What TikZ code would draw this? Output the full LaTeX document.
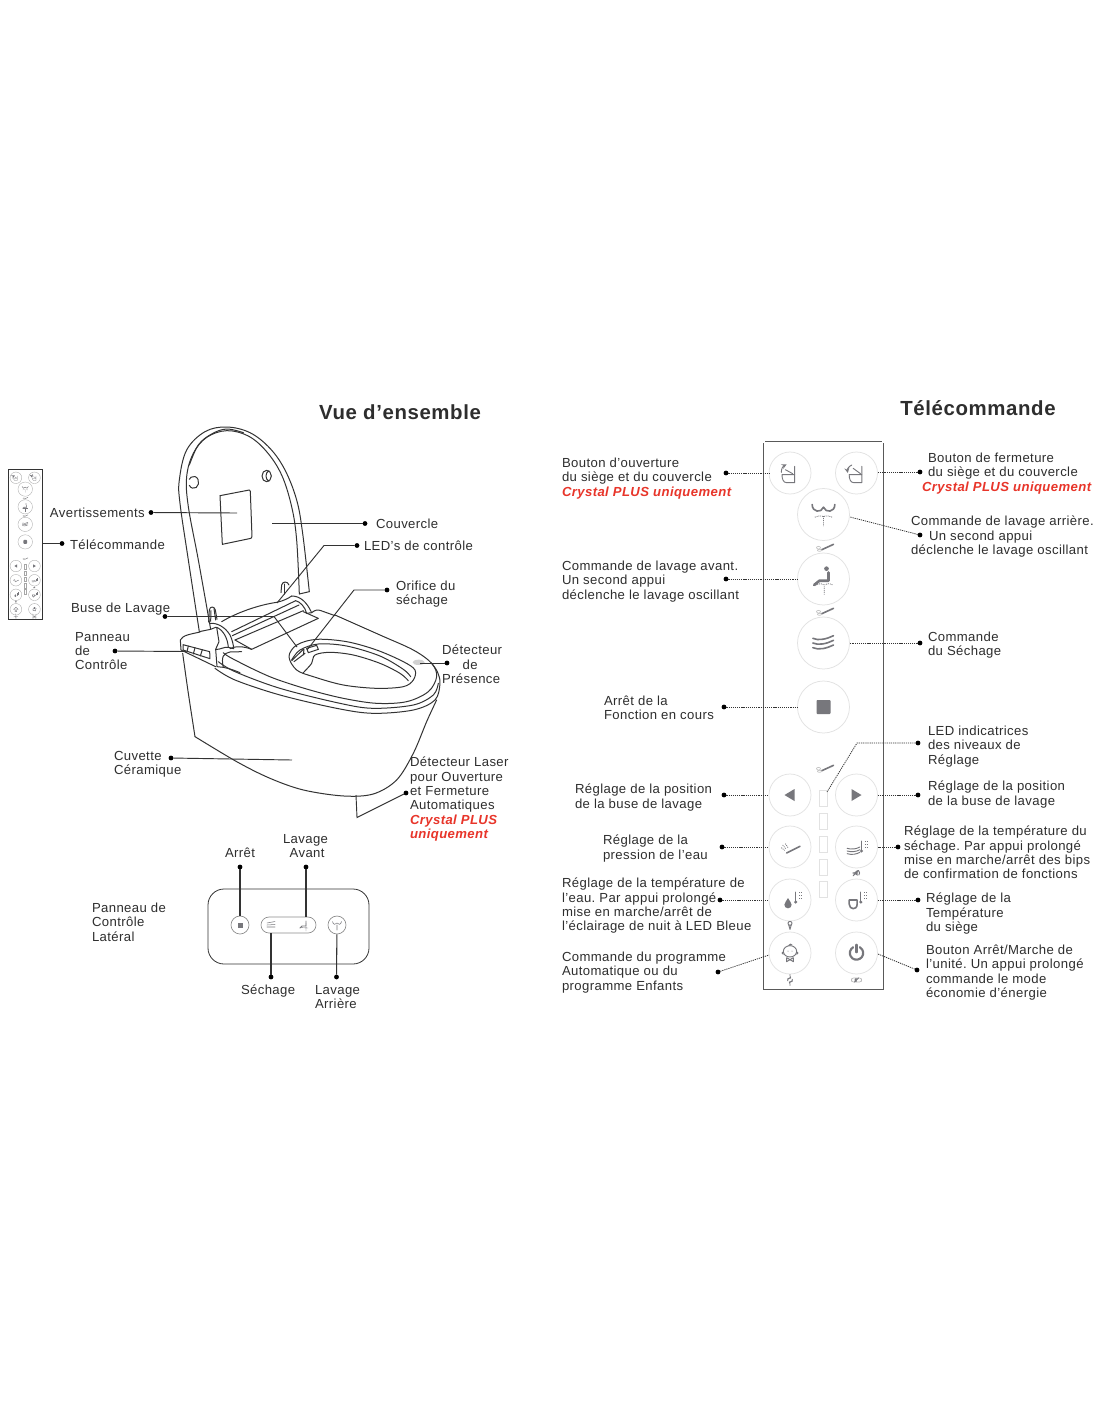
\documentclass[tikz,border=0pt]{standalone}
\usepackage{fontspec}
\setmainfont[LetterSpace=3]{Liberation Sans}
\definecolor{ink}{HTML}{2E2E2E}
\definecolor{wire}{HTML}{333333}
\definecolor{ic}{HTML}{77777C}
\definecolor{ring}{HTML}{E2E2E2}
\definecolor{redtxt}{HTML}{E8352A}
\newcommand{\crystal}[1]{{\bfseries\itshape\color{redtxt}#1}}
\tikzset{
  lbl/.style={anchor=north west,inner sep=0pt,outer sep=0pt,align=left,text=ink,yshift=-0.75pt,
    font=\fontsize{9.85pt}{10.75pt}\selectfont\frenchspacing,execute at begin node={\rule{0pt}{8pt}}},
  heading/.style={inner sep=0pt,text=ink,font=\fontsize{15.3pt}{17pt}\selectfont\bfseries},
  dotn/.style={circle,fill=black,draw=none,minimum size=3.6pt,inner sep=0pt,outer sep=0pt},
  lead/.style={draw=wire,line width=0.7pt},
  side/.style={draw=wire,line width=0.8pt},
  dots/.style={draw=wire,line width=0.6pt,dash pattern=on 0.9pt off 0.7pt},
  toil/.style={draw=wire,line width=0.75pt,line join=round,line cap=round},
  rwall/.style={draw=black!65,line width=1.15pt},
  rbtn/.style={draw=ring,line width=0.55pt},
  icl/.style={draw=ic,line width=0.7pt,line cap=round,line join=round},
  icthick/.style={draw=ic,line width=1.2pt,line cap=round,line join=round},
  icfat/.style={draw=ic,line width=2pt,line cap=round,line join=round},
  icpow/.style={draw=ic,line width=1.6pt,line cap=round,line join=round},
  icd/.style={draw=ic,line width=0.6pt,dash pattern=on 0.7pt off 0.7pt},
  z2/.style={shift={(170,420)},scale=0.3333},
  z6/.style={shift={(175,570)},scale=0.3333},
  z7/.style={shift={(280,620)},scale=0.3333},
}
\newcommand{\thermo}[2]{\fill[ic] (#1,#2) circle (5);\draw[icl] (#1,#2)--(#1,#2-30);
  \draw[icd] (#1+10,#2-30)--(#1+18,#2-30) (#1+10,#2-20)--(#1+18,#2-20) (#1+10,#2-10)--(#1+18,#2-10);}
\newcommand{\nozz}[2]{\begin{scope}[shift={(#1,#2)},scale=0.3333]
  \draw[icthick] (-5,8)--(30,-8); \draw[draw=ring!70!gray,line width=0.5pt] (-15,2) ellipse (6 and 4) (-12,10) ellipse (6 and 3);\end{scope}}
\newcommand{\remoteface}{%
  % local origin = top-left corner of the remote
  \foreach \cx/\cy in {26.5/32,93/32,26.5/354,93/354,26.5/406,93/406,26.5/459,93/459,26.5/512,93/512}
    \draw[rbtn] (\cx,\cy) circle (21);
  \foreach \cy in {73.5,138,202,266}
    \draw[rbtn] (60,\cy) circle (26);
  \foreach \cy in {357,380,403,426,448}
    \draw[rbtn] (56,\cy-8) rectangle (64,\cy+8);
  % open lid
  \begin{scope}[shift={(26.5,32)},scale=0.3333]
    \draw[icl] (-24,5)--(14,5)--(14,29)--(-10,29) .. controls (-20,29) and (-24,18) .. (-24,5);
    \draw[icl] (14,5)--(14,-20) (-14,-10)--(8,2);
    \draw[icl,-stealth] (-26,-2) .. controls (-26,-12) and (-22,-20) .. (-10,-26);
  \end{scope}
  % close lid
  \begin{scope}[shift={(93,32)},scale=0.3333]
    \draw[icl] (-22,5)--(16,5)--(16,29)--(-8,29) .. controls (-18,29) and (-22,18) .. (-22,5);
    \draw[icl] (16,5)--(16,-20) (-10,-14)--(12,2);
    \draw[icl,stealth-] (-26,0) .. controls (-28,-10) and (-24,-20) .. (-14,-24);
  \end{scope}
  % rear wash
  \begin{scope}[shift={(60,73.5)},scale=0.3333]
    \draw[icthick] (-34,-30) .. controls (-34,-6) and (-6,-4) .. (0,-22) .. controls (6,-4) and (34,-6) .. (34,-30);
    \draw[icd] (0,5)--(0,35) (-26,8) .. controls (-14,4) and (-6,2) .. (0,6) .. controls (6,2) and (14,4) .. (26,8);
  \end{scope}
  \nozz{60}{106}
  % front wash
  \begin{scope}[shift={(60,138)},scale=0.3333]
    \fill[ic] (9,-31) circle (7);
    \draw[icfat] (15,-20)--(15,5)--(-12,5)--(-28,18);
    \draw[icd] (2,22)--(2,48) (-24,18) .. controls (-10,12) and (-4,14) .. (2,18) .. controls (8,14) and (18,12) .. (28,18);
  \end{scope}
  \nozz{60}{170}
  % dry
  \begin{scope}[shift={(60,202)},scale=0.3333]
    \foreach \dy in {-14,0,14}
      \draw[icthick] (-32,\dy) .. controls (-15,\dy+8) and (10,\dy+2) .. (30,\dy-8);
  \end{scope}
  % stop
  \fill[ic,rounded corners=0.6pt] (53,259) rectangle (67,273);
  \nozz{60}{327}
  % position arrows
  \fill[ic] (21,354)--(31,348)--(31,360)--cycle;
  \fill[ic] (98,354)--(88,348)--(88,360)--cycle;
  % pressure
  \begin{scope}[shift={(26.5,406)},scale=0.3333]
    \draw[icthick] (-10,18)--(30,-2);
    \draw[icd] (-22,-6)--(-12,6) (-14,-10)--(-6,2) (-26,2)--(-16,10);
  \end{scope}
  % dry temp
  \begin{scope}[shift={(93,406)},scale=0.3333]
    \foreach \dy in {4,12,20} \draw[icl] (-28,\dy) .. controls (-15,\dy+4) and (0,\dy+2) .. (10,\dy-4);
    \thermo{15}{12}
  \end{scope}
  % water temp
  \begin{scope}[shift={(26.5,459)},scale=0.3333]
    \fill[ic] (-6,-6) .. controls (-8,2) and (-17,6) .. (-17,14) arc (180:0:11) .. controls (5,6) and (-4,2) .. (-6,-6) -- cycle;
    \thermo{17}{6}
  \end{scope}
  % seat temp
  \begin{scope}[shift={(93,459)},scale=0.3333]
    \draw[icthick] (-22,0)--(2,0)--(2,12) .. controls (2,24) and (-6,26) .. (-10,26) .. controls (-16,26) and (-22,20) .. (-22,12)--cycle;
    \thermo{13}{6}
  \end{scope}
  % child
  \begin{scope}[shift={(26.5,512)},scale=0.3333]
    \draw[icl] (0,-5) ellipse (20 and 17);
    \draw[icl] (-20,-3)--(-24,0)--(-20,4) (20,-3)--(24,0)--(20,4) (-4,-22) .. controls (-2,-28) and (4,-28) .. (6,-24);
    \draw[icl] (-10,14)--(10,26)--(10,14)--(-10,26)--cycle;
    \fill[ic] (-6,-6) circle (1.5) (6,-6) circle (1.5);
  \end{scope}
  % power
  \begin{scope}[shift={(93,512)},scale=0.3333]
    \draw[icpow] (-10,-17.3) arc (240:-60:20);
    \draw[icpow] (0,-25)--(0,-2);
  \end{scope}
  % small symbols
  \begin{scope}[shift={(93,432)},scale=0.3333]
    \fill[ic] (-12,-2)--(-6,-2)--(3,-9)--(3,8)--(-6,2)--(-12,2)--cycle;
    \draw[icl] (7,-6) .. controls (10,-2) and (10,2) .. (7,6) (-10,8)--(6,-8);
  \end{scope}
  \begin{scope}[shift={(26.5,485)},scale=0.3333]
    \draw[icl] (0,-8) circle (6); \draw[icl] (-4,-4)--(0,10)--(4,-4);
  \end{scope}
  \begin{scope}[shift={(26.5,539)},scale=0.3333]
    \draw[icl,->] (-7,2) arc (170:300:7);
    \draw[icl,->] (7,-2) arc (-10:120:7);
  \end{scope}
  \begin{scope}[shift={(93,539)},scale=0.3333]
    \draw[draw=ring!60!gray,line width=0.5pt,rounded corners=1.5pt] (-15,-6) rectangle (15,6);
    \fill[ic] (0,-6) arc (270:90:6) -- cycle;
    \draw[icl] (-6,6)--(6,-6);
  \end{scope}
}
\begin{document}
\begin{tikzpicture}[x=0.75pt,y=-0.75pt]
\useasboundingbox (0,0) rectangle (1100,1422);
\fill[white] (0,0) rectangle (1100,1422);

% ---------- headings ----------
\node[heading] (h1) at (400,412) {Vue d’ensemble};
\node[heading] (h2) at (978,408.5) {Télécommande};

% ---------- toilet ----------
\begin{scope}[z2]
  % lid
  \draw[toil] plot[smooth,tension=0.6] coordinates {(88,635)(55,420)(30,250)(28,180)(50,90)(105,35)(170,21)(240,38)(300,85)(345,150)(380,240)(398,340)(418,515)};
  \draw[toil] plot[smooth,tension=0.6] coordinates {(122,628)(85,420)(55,260)(50,170)(70,100)(110,52)(170,32)(235,48)(290,95)(335,165)(365,260)(380,360)(388,522)};
  \draw[toil] plot[smooth,tension=0.6] coordinates {(58,135)(85,75)(125,42)(170,27)(220,38)};
  \draw[toil] (88,635)--(122,628) (388,522)--(418,515);
  \draw[toil] (150,227)--(238,210) .. controls (241,210) and (241,212) .. (241,214) -- (246,350) .. controls (246,353) and (245,355) .. (243,355) -- (157,373) -- cycle;
  \draw[toil] (58,196) arc (150:-150:15 and 18);
  \draw[toil] (290,168) ellipse (14 and 17);
  \draw[toil] (297,152) .. controls (285,158) and (285,178) .. (297,184);
  % body
  \draw[toil] plot[smooth,tension=0.5] coordinates {(38,700)(55,820)(75,950)};
  \draw[toil] plot[smooth,tension=0.55] coordinates {(75,950)(200,1025)(300,1075)(400,1110)(520,1128)(610,1122)(680,1080)(730,1000)(770,905)(800,840)};
\end{scope}
\begin{scope}[z6]
  % tank
  \draw[toil] (75,186) .. controls (50,192) and (22,195) .. (16,210) -- (18,240) -- (122,290);
  \draw[toil] (107,178) -- (122,172);
  \draw[toil] (24,224)--(104,245)--(105,266)--(24,240)--cycle;
  \draw[toil] (40,228)--(36,245) (60,233)--(55,252) (82,239)--(76,258);
  \draw[toil] (105,160) .. controls (125,158) and (150,170) .. (165,195) .. controls (172,210) and (175,222) .. (176,236) -- (160,232) .. controls (158,205) and (145,180) .. (125,172) -- (132,215) -- (122,238) -- (126,290) -- (145,292);
  \draw[toil] (122,238) .. controls (135,240) and (145,230) .. (160,232);
  % left hinge stalk
  \draw[toil] (101,156) -- (103,120) .. controls (105,108) and (118,108) .. (121,120) -- (126,148);
  \draw[toil] (107,154) -- (108,122) (117,116) -- (122,150);
  % right hinge stalk
  \draw[toil] (318,68) -- (320,45) .. controls (323,33) and (338,33) .. (342,45);
  \draw[toil] (328,72) -- (328,42);
  % hood
  \draw[toil] (140,155) .. controls (185,128) and (250,105) .. (305,97) .. controls (325,93) and (340,85) .. (350,78);
  \draw[toil] (350,78) .. controls (375,78) and (395,95) .. (410,128) -- (395,130) .. controls (390,110) and (375,95) .. (362,92);
  \draw[toil] (362,92) -- (170,185) (372,105) -- (172,197) (385,122) -- (180,210);
  \draw[toil] (180,210) -- (230,238) -- (430,145) -- (385,125);
  \draw[toil] (165,236) .. controls (180,228) and (205,228) .. (230,238);
  % seat top contour
  \draw[toil] (410,128) .. controls (420,120) and (428,118) .. (438,122) -- (480,137);
  \draw[toil] (145,292) .. controls (138,260) and (145,250) .. (165,246) -- (200,245);
  \draw[toil] (145,292) .. controls (165,296) and (175,300) .. (195,308);
\end{scope}
\begin{scope}[z7]
  \draw[toil] plot[smooth,tension=0.55] coordinates {(165,-15)(300,45)(400,90)(455,130)(470,170)(445,215)(380,245)(290,250)(190,235)(90,210)(-10,178)(-75,150)(-150,112)(-170,98)};
  \draw[toil] plot[smooth,tension=0.55] coordinates {(475,190)(460,225)(400,255)(280,265)(180,250)(0,205)(-135,155)(-185,125)};
  \draw[toil] plot[smooth,tension=0.55] coordinates {(455,130)(472,155)(480,190)(465,240)(400,270)(280,280)(170,265)(0,225)(-135,180)(-195,145)};
  % hole
  \draw[toil] plot[smooth cycle,tension=0.55] coordinates {(27,110)(50,75)(110,58)(200,65)(290,90)(370,125)(405,150)(400,180)(370,200)(290,205)(190,195)(100,170)(50,150)};
  \draw[toil] plot[smooth,tension=0.55] coordinates {(70,158)(95,130)(105,105)(150,97)(220,105)(300,130)(360,160)(385,182)};
  \draw[toil] plot[smooth,tension=0.55] coordinates {(35,120)(60,90)(115,72)(200,78)(300,108)(370,148)(392,170)};
  \draw[toil] (35,122)--(70,88) (42,125)--(75,100) (72,88)--(70,105) (80,85)--(110,76)--(115,88)--(85,98)--cycle;
  \fill[black!18] (416,127) ellipse (18 and 8);
\end{scope}

% ---------- small remote ----------
\begin{scope}[shift={(8.5,469)},xscale=0.279,yscale=0.274,
   rbtn/.style={draw=black!35,line width=0.25pt},
   icl/.style={draw=ic,line width=0.2pt},icthick/.style={draw=ic,line width=0.35pt},
   icfat/.style={draw=ic,line width=0.5pt},icpow/.style={draw=ic,line width=0.35pt},
   icd/.style={draw=ic,line width=0.2pt,dash pattern=on 0.4pt off 0.4pt}]
  \remoteface
  \draw[draw=wire,line width=0.7pt] (0,0) rectangle (120,548);
\end{scope}

% ---------- large remote ----------
\begin{scope}[shift={(763.5,441)}]
  \remoteface
\end{scope}
\draw[rwall] (763.5,443) -- (763.5,989.5) -- (883.5,989.5) -- (883.5,443);
\draw[rwall] (765,441.5) -- (882,441.5);

% ---------- side panel ----------
\node[draw=wire,line width=0.6pt,rounded corners=12pt,minimum width=120.75pt,minimum height=56.25pt,inner sep=0pt] (panel) at (288.5,926.5) {};
\node[circle,draw=black!45,line width=0.5pt,minimum size=13.5pt,inner sep=0pt] (bstop) at (240,925) {};
\fill[ic] (237.5,922.5) rectangle (242.5,927.5);
\node[draw=black!45,line width=0.5pt,rounded corners=6pt,minimum width=41.25pt,minimum height=12pt,inner sep=0pt] (bpill) at (288.5,925) {};
\node[circle,draw=black!45,line width=0.5pt,minimum size=13.5pt,inner sep=0pt] (brear) at (337,925) {};
\draw[icl,line width=0.4pt] (267,923)--(275,921.5) (267,925)--(275,924.5) (267,927)--(275,927);
\draw[icl,line width=0.7pt] (306,921)--(306,926)--(302,926)--(300,928);
\draw[icl,line width=0.3pt] (306,923)--(306,931) (300,927.5)--(308,928);
\draw[icl,line width=0.4pt] (332.5,921.5) .. controls (333,925) and (336,925) .. (337,923) .. controls (338,925) and (341,925) .. (341.5,921.5) (337,925)--(337,930);

% ---------- labels left ----------
\node[lbl] (lav) at (50,506) {Avertissements};
\node[lbl] (ltel) at (70,538) {Télécommande};
\node[lbl] (lcou) at (376,517) {Couvercle};
\node[lbl] (lled) at (364,539) {LED’s de contrôle};
\node[lbl] (lori) at (396,580) {Orifice du\\séchage};
\node[lbl] (lbuse) at (71,601) {Buse de Lavage};
\node[lbl] (lpan) at (75,631) {Panneau\\de\\Contrôle};
\node[lbl] (ldet) at (442,644) {Détecteur\\\hspace*{15.5pt}de\\Présence};
\node[lbl] (lcuv) at (114,750) {Cuvette\\Céramique};
\node[lbl] (llas) at (410,756) {Détecteur Laser\\pour Ouverture\\et Fermeture\\Automatiques\\\crystal{Crystal PLUS}\\\crystal{uniquement}};
\node[lbl] (lplat) at (92,902) {Panneau de\\Contrôle\\Latéral};
\node[lbl] (larr) at (225,846) {Arrêt};
\node[lbl] (lav2) at (283,833) {Lavage\\\hspace*{5pt}Avant};
\node[lbl] (lsec) at (241,983) {Séchage};
\node[lbl] (lar2) at (315,984) {Lavage\\Arrière};

% ---------- labels right ----------
\node[lbl] (r1) at (562,457) {Bouton d’ouverture\\du siège et du couvercle\\\crystal{Crystal PLUS uniquement}};
\node[lbl] (r2) at (922,452) {\hspace*{4.5pt}Bouton de fermeture\\\hspace*{4.5pt}du siège et du couvercle\\\crystal{Crystal PLUS uniquement}};
\node[lbl] (r3) at (911,515) {Commande de lavage arrière.\\\hspace*{13.5pt}Un second appui\\déclenche le lavage oscillant};
\node[lbl] (r4) at (562,560) {Commande de lavage avant.\\Un second appui\\déclenche le lavage oscillant};
\node[lbl] (r5) at (928,631) {Commande\\du Séchage};
\node[lbl] (r6) at (604,695) {Arrêt de la\\Fonction en cours};
\node[lbl] (r7) at (928,725) {LED indicatrices\\des niveaux de\\Réglage};
\node[lbl] (r8) at (575,783) {Réglage de la position\\de la buse de lavage};
\node[lbl] (r9) at (928,780) {Réglage de la position\\de la buse de lavage};
\node[lbl] (r10) at (603,834) {Réglage de la\\pression de l’eau};
\node[lbl] (r11) at (904,825) {Réglage de la température du\\séchage. Par appui prolongé\\mise en marche/arrêt des bips\\de confirmation de fonctions};
\node[lbl] (r12) at (562,877) {Réglage de la température de\\l’eau. Par appui prolongé\\mise en marche/arrêt de\\l’éclairage de nuit à LED Bleue};
\node[lbl] (r13) at (926,892) {Réglage de la\\Température\\du siège};
\node[lbl] (r14) at (562,951) {Commande du programme\\Automatique ou du\\programme Enfants};
\node[lbl] (r15) at (926,944) {Bouton Arrêt/Marche de\\l’unité. Un appui prolongé\\commande le mode\\économie d’énergie};

% ---------- left connectors ----------
\node[dotn] (dav) at (151,512.5) {}; \coordinate (eav) at (237,513);
\draw[lead] (dav) -- (eav);
\node[dotn] (dtel) at (62,543.5) {}; \coordinate (etel) at (43,543.5);
\draw[lead] (dtel) -- (etel);
\node[dotn] (dcou) at (365,523.5) {}; \coordinate (ecou) at (272,523.5);
\draw[lead] (dcou) -- (ecou);
\node[dotn] (dled) at (357,545.5) {}; \coordinate (eled) at (277,603);
\draw[lead] (dled) -- (324,545.5) -- (eled);
\node[dotn] (dori) at (387,590) {}; \coordinate (eori) at (307,650);
\draw[lead] (dori) -- (354,590) -- (eori);
\node[dotn] (dbuse) at (165,616.5) {}; \coordinate (ebuse) at (297,647);
\draw[lead] (dbuse) -- (274,616.5) -- (ebuse);
\node[dotn] (dpan) at (115,651) {}; \coordinate (epan) at (186,651.5);
\draw[lead] (dpan) -- (epan);
\node[dotn] (ddet) at (447,663) {}; \coordinate (edet) at (420,663);
\draw[lead] (ddet) -- (edet);
\node[dotn] (dcuv) at (171,758) {}; \coordinate (ecuv) at (292,760);
\draw[lead] (dcuv) -- (ecuv);
\node[dotn] (dlas) at (406,793) {}; \coordinate (elas) at (356,795);
\draw[lead] (dlas) -- (357,817.5) -- (elas);

% ---------- side panel connectors ----------
\node[dotn] (darr) at (240,867) {};
\draw[side] (darr) -- (bstop);
\node[dotn] (dav2) at (306,867) {};
\draw[side] (dav2) -- (306,917);
\node[dotn] (dsec) at (271,977) {};
\draw[side] (dsec) -- (271,933);
\node[dotn] (dar2) at (336.5,977) {};
\draw[side] (dar2) -- (brear);

% ---------- remote connectors ----------
\node[dotn] (a1) at (726,473) {}; \coordinate (b1) at (769,473); \draw[dots] (a1) -- (b1);
\node[dotn] (a2) at (920,472) {}; \coordinate (b2) at (878,472); \draw[dots] (a2) -- (b2);
\node[dotn] (a3) at (920,535) {}; \coordinate (b3) at (850,517); \draw[dots] (a3) -- (b3);
\node[dotn] (a4) at (726,579) {}; \coordinate (b4) at (797,579); \draw[dots] (a4) -- (b4);
\node[dotn] (a5) at (920,643) {}; \coordinate (b5) at (850,643); \draw[dots] (a5) -- (b5);
\node[dotn] (a6) at (724,707) {}; \coordinate (b6) at (797,707); \draw[dots] (a6) -- (b6);
\node[dotn] (a7) at (918,743) {}; \coordinate (b7) at (827,792); \draw[dots] (a7) -- (857,743) -- (b7);
\node[dotn] (a8) at (724,795) {}; \coordinate (b8) at (769,795); \draw[dots] (a8) -- (b8);
\node[dotn] (a9) at (918,795) {}; \coordinate (b9) at (878,795); \draw[dots] (a9) -- (b9);
\node[dotn] (a10) at (722,847) {}; \coordinate (b10) at (769,847); \draw[dots] (a10) -- (b10);
\node[dotn] (a11) at (898,847) {}; \coordinate (b11) at (878,847); \draw[dots] (a11) -- (b11);
\node[dotn] (a12) at (720,900) {}; \coordinate (b12) at (769,900); \draw[dots] (a12) -- (b12);
\node[dotn] (a13) at (918,900) {}; \coordinate (b13) at (878,900); \draw[dots] (a13) -- (b13);
\node[dotn] (a14) at (718,972) {}; \coordinate (b14) at (769,955); \draw[dots] (a14) -- (b14);
\node[dotn] (a15) at (917,970) {}; \coordinate (b15) at (878,954); \draw[dots] (a15) -- (b15);
\end{tikzpicture}
\end{document}
